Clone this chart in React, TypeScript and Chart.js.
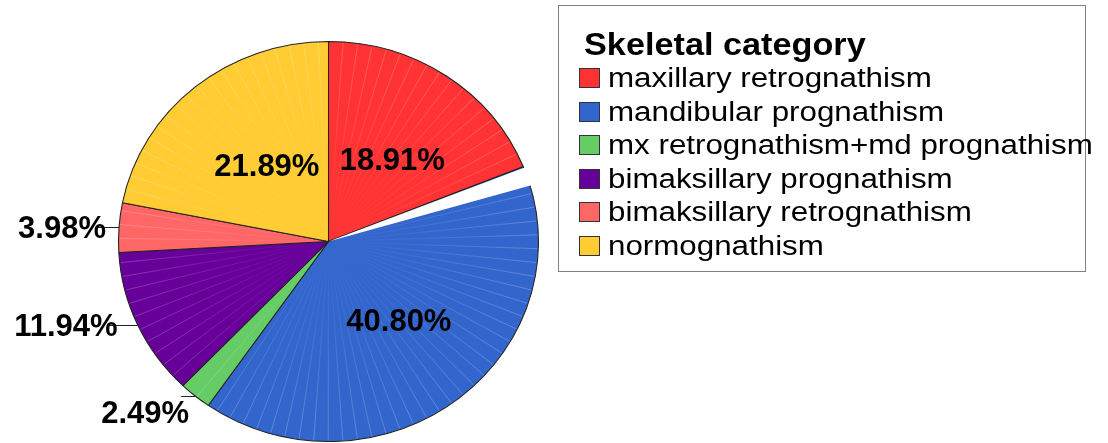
import React, { useEffect, useRef } from 'react';
import { Chart, registerables } from 'chart.js';

Chart.register(...registerables);

// ---- data ----
const categories = [
  'maxillary retrognathism',
  'mandibular prognathism',
  'mx retrognathism+md prognathism',
  'bimaksillary prognathism',
  'bimaksillary retrognathism',
  'normognathism',
];
const percentages = [18.91, 40.8, 2.49, 11.94, 3.98, 21.89];
const sliceColors = ['#FF3333', '#3366CC', '#66CC66', '#660099', '#FF6666', '#FFCC33'];
const legendTitle = 'Skeletal category';
const insideLabelSlices = [0, 1, 5];

// ---- style ----
const FONT = '"Liberation Sans", Arial, Helvetica, sans-serif';
const ELLIPSE_X = 1.05;
const GAP_SLICE = 1;
const GAP_ANGLE = 0.1;
const SHEEN_STEP = (Math.PI * 2) / 90;
const outsideLabelStyle: Record<number, { line: number; dx: number; dy: number }> = {
  2: { line: 14, dx: 8, dy: 18 },
  3: { line: 30, dx: 10, dy: 3 },
  4: { line: 21, dx: 8, dy: 2 },
};

export default function App() {
  const ref = useRef<HTMLCanvasElement>(null);

  useEffect(() => {
    document.body.style.margin = '0';
    const canvas = ref.current!;

    const ellipsePlugin = {
      id: 'ellipsePie',
      beforeDatasetsDraw(chart: any) {
        const el: any = chart.getDatasetMeta(0).data[0];
        const { x, y } = el.getProps(['x', 'y'], true);
        const ctx = chart.ctx;
        ctx.save();
        ctx.translate(x, y);
        ctx.scale(ELLIPSE_X, 1);
        ctx.translate(-x, -y);
      },
      afterDatasetsDraw(chart: any) {
        const ctx = chart.ctx;
        const meta = chart.getDatasetMeta(0);

        // faint radial sheen lines inside slices, fading toward the centre
        const p0 = meta.data[0].getProps(['x', 'y', 'outerRadius'], true);
        const grad = ctx.createRadialGradient(p0.x, p0.y, 0, p0.x, p0.y, p0.outerRadius);
        grad.addColorStop(0, 'rgba(255,255,255,0)');
        grad.addColorStop(0.35, 'rgba(255,255,255,0.08)');
        grad.addColorStop(1, 'rgba(255,255,255,0.3)');
        ctx.save();
        ctx.strokeStyle = grad;
        ctx.lineWidth = 0.7;
        meta.data.forEach((el: any) => {
          const p = el.getProps(['x', 'y', 'startAngle', 'endAngle', 'outerRadius'], true);
          for (let a = p.startAngle + SHEEN_STEP; a < p.endAngle - SHEEN_STEP * 0.5; a += SHEEN_STEP) {
            ctx.beginPath();
            ctx.moveTo(p.x, p.y);
            ctx.lineTo(p.x + (p.outerRadius - 1) * Math.cos(a), p.y + (p.outerRadius - 1) * Math.sin(a));
            ctx.stroke();
          }
        });
        ctx.restore();

        const g: any = meta.data[GAP_SLICE];
        const gp = g.getProps(['x', 'y', 'startAngle', 'outerRadius'], true);
        ctx.beginPath();
        ctx.moveTo(gp.x, gp.y);
        ctx.arc(gp.x, gp.y, gp.outerRadius + 3, gp.startAngle + 0.006, gp.startAngle + GAP_ANGLE);
        ctx.closePath();
        ctx.fillStyle = '#ffffff';
        ctx.fill();
        ctx.restore();

        // percentage labels
        ctx.save();
        ctx.fillStyle = '#000';
        ctx.font = `bold 31px ${FONT}`;
        ctx.textBaseline = 'middle';
        meta.data.forEach((el: any, i: number) => {
          const p = el.getProps(['x', 'y', 'startAngle', 'endAngle', 'outerRadius'], true);
          const mid = (p.startAngle + p.endAngle) / 2;
          const text = percentages[i].toFixed(2) + '%';
          if (insideLabelSlices.includes(i)) {
            const px = p.x + ELLIPSE_X * p.outerRadius * 0.5 * Math.cos(mid) + 5;
            const py = p.y + p.outerRadius * 0.5 * Math.sin(mid) + 3;
            ctx.textAlign = 'center';
            ctx.fillText(text, px, py);
          } else {
            const s = outsideLabelStyle[i];
            const ex = p.x + ELLIPSE_X * p.outerRadius * Math.cos(mid);
            const ey = p.y + p.outerRadius * Math.sin(mid);
            ctx.strokeStyle = '#222';
            ctx.lineWidth = 1;
            ctx.beginPath();
            ctx.moveTo(ex, Math.round(ey) + 0.5);
            ctx.lineTo(ex - s.line, Math.round(ey) + 0.5);
            ctx.stroke();
            ctx.textAlign = 'right';
            ctx.fillText(text, ex - s.line + s.dx, ey + s.dy);
          }
        });
        ctx.restore();
      },
      afterDraw(chart: any) {
        const ctx = chart.ctx;
        ctx.save();
        ctx.strokeStyle = '#808080';
        ctx.lineWidth = 1;
        ctx.strokeRect(558.5, 5.5, 527, 266);

        ctx.fillStyle = '#000';
        ctx.textBaseline = 'alphabetic';
        ctx.textAlign = 'left';
        ctx.save();
        ctx.translate(584, 55);
        ctx.scale(1.07, 1);
        ctx.font = `bold 32px ${FONT}`;
        ctx.fillText(legendTitle, 0, 0);
        ctx.restore();

        categories.forEach((c, i) => {
          const b = Math.round(87 + i * 33.6);
          ctx.fillStyle = sliceColors[i];
          ctx.fillRect(579, b - 19, 21, 20);
          ctx.strokeStyle = '#333';
          ctx.strokeRect(579.5, b - 18.5, 20, 19);
          ctx.fillStyle = '#000';
          ctx.save();
          ctx.translate(608, b);
          ctx.scale(1.16, 1);
          ctx.font = `27px ${FONT}`;
          ctx.fillText(c, 0, 0);
          ctx.restore();
        });
        ctx.restore();
      },
    };

    const chart = new Chart(canvas, {
      type: 'pie',
      data: {
        labels: categories,
        datasets: [
          {
            data: percentages,
            backgroundColor: sliceColors,
            borderColor: '#222',
            borderWidth: 1,
          },
        ],
      },
      options: {
        responsive: false,
        animation: false,
        layout: { padding: { left: 128, right: 579, top: 41, bottom: 1 } },
        plugins: {
          legend: { display: false },
          tooltip: { enabled: false },
        },
      },
      plugins: [ellipsePlugin],
    });
    return () => chart.destroy();
  }, []);

  return <canvas ref={ref} width={1108} height={443} style={{ display: 'block' }} />;
}
